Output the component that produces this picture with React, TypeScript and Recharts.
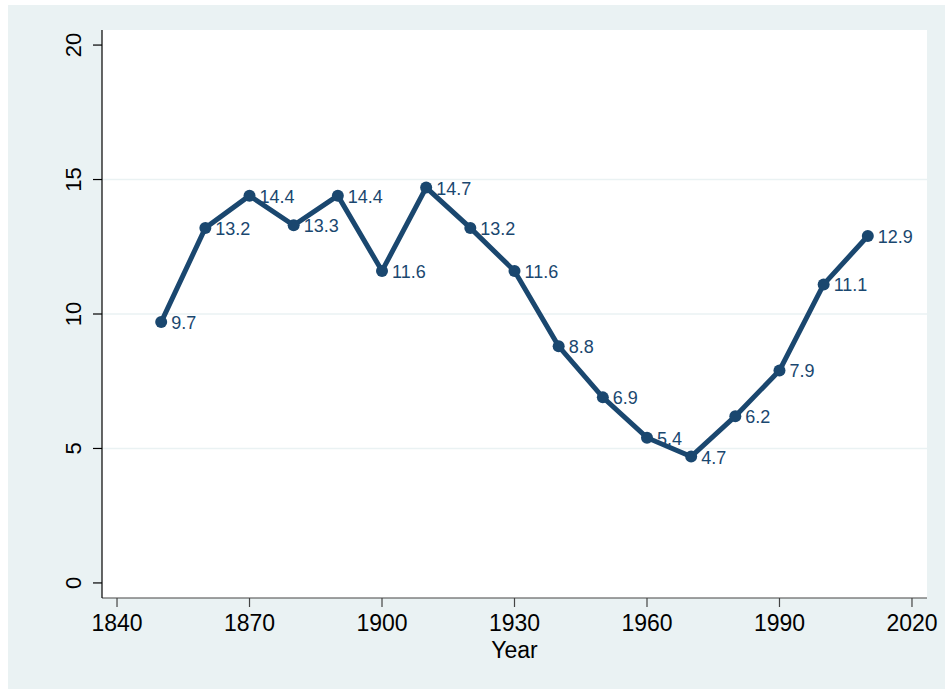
import { LineChart, Line, XAxis, YAxis, CartesianGrid, ReferenceLine, LabelList } from 'recharts'

const years = [1850, 1860, 1870, 1880, 1890, 1900, 1910, 1920, 1930, 1940, 1950, 1960, 1970, 1980, 1990, 2000, 2010]
const values = [9.7, 13.2, 14.4, 13.3, 14.4, 11.6, 14.7, 13.2, 11.6, 8.8, 6.9, 5.4, 4.7, 6.2, 7.9, 11.1, 12.9]
const xTicks = [1840, 1870, 1900, 1930, 1960, 1990, 2020]
const yTicks = [0, 5, 10, 15, 20]
const gridLines = [5, 10, 15]

const navy = '#1a476f'
const bg = '#eaf2f3'
const font = 'Liberation Sans, Arial, sans-serif'

const data = years.map((year, i) => ({ year, value: values[i] }))

// y tick labels are rotated like Stata's default
function YTick(props: any) {
  const { x, y, payload } = props
  const tx = x - 10
  return (
    <text x={tx} y={y} transform={`rotate(-90, ${tx}, ${y})`} textAnchor="middle" fill="#000" fontSize={22} fontFamily={font}>
      {payload.value}
    </text>
  )
}

function PointLabel(props: any) {
  const { x, y, value } = props
  return (
    <text x={x + 10} y={y + 7} fill={navy} fontSize={18} fontFamily={font}>
      {value}
    </text>
  )
}

export default function App() {
  return (
    <div style={{ position: 'absolute', left: 8, top: 5, width: 937, height: 684, background: bg }}>
      <LineChart width={937} height={684} data={data} margin={{ top: 25, right: 18, bottom: 0, left: 0 }}>
        <CartesianGrid fill="#fff" horizontal={false} vertical={false} />
        {gridLines.map((g) => (
          <ReferenceLine key={g} y={g} stroke={bg} strokeWidth={1.5} />
        ))}
        <XAxis
          dataKey="year"
          type="number"
          domain={[1836.6, 2023.4]}
          ticks={xTicks}
          allowDataOverflow
          axisLine={{ stroke: '#444', strokeWidth: 1.2 }}
          tickLine={{ stroke: '#444', strokeWidth: 1.2 }}
          tickSize={9}
          height={91}
          tick={{ fill: '#000', fontSize: 23, fontFamily: font, dy: 6 }}
          label={{ value: 'Year', position: 'insideTop', dy: 39, fill: '#000', fontSize: 23, fontFamily: font }}
        />
        <YAxis
          type="number"
          domain={[-0.56, 20.56]}
          ticks={yTicks}
          allowDataOverflow
          width={94}
          axisLine={{ stroke: '#000', strokeWidth: 1.2 }}
          tickLine={{ stroke: '#000', strokeWidth: 1.2 }}
          tickSize={9}
          tick={<YTick />}
        />
        <Line
          dataKey="value"
          stroke={navy}
          strokeWidth={5}
          dot={{ r: 6, fill: navy, stroke: navy, strokeWidth: 0 }}
          activeDot={false}
          isAnimationActive={false}
        >
          <LabelList dataKey="value" content={<PointLabel />} />
        </Line>
      </LineChart>
    </div>
  )
}
